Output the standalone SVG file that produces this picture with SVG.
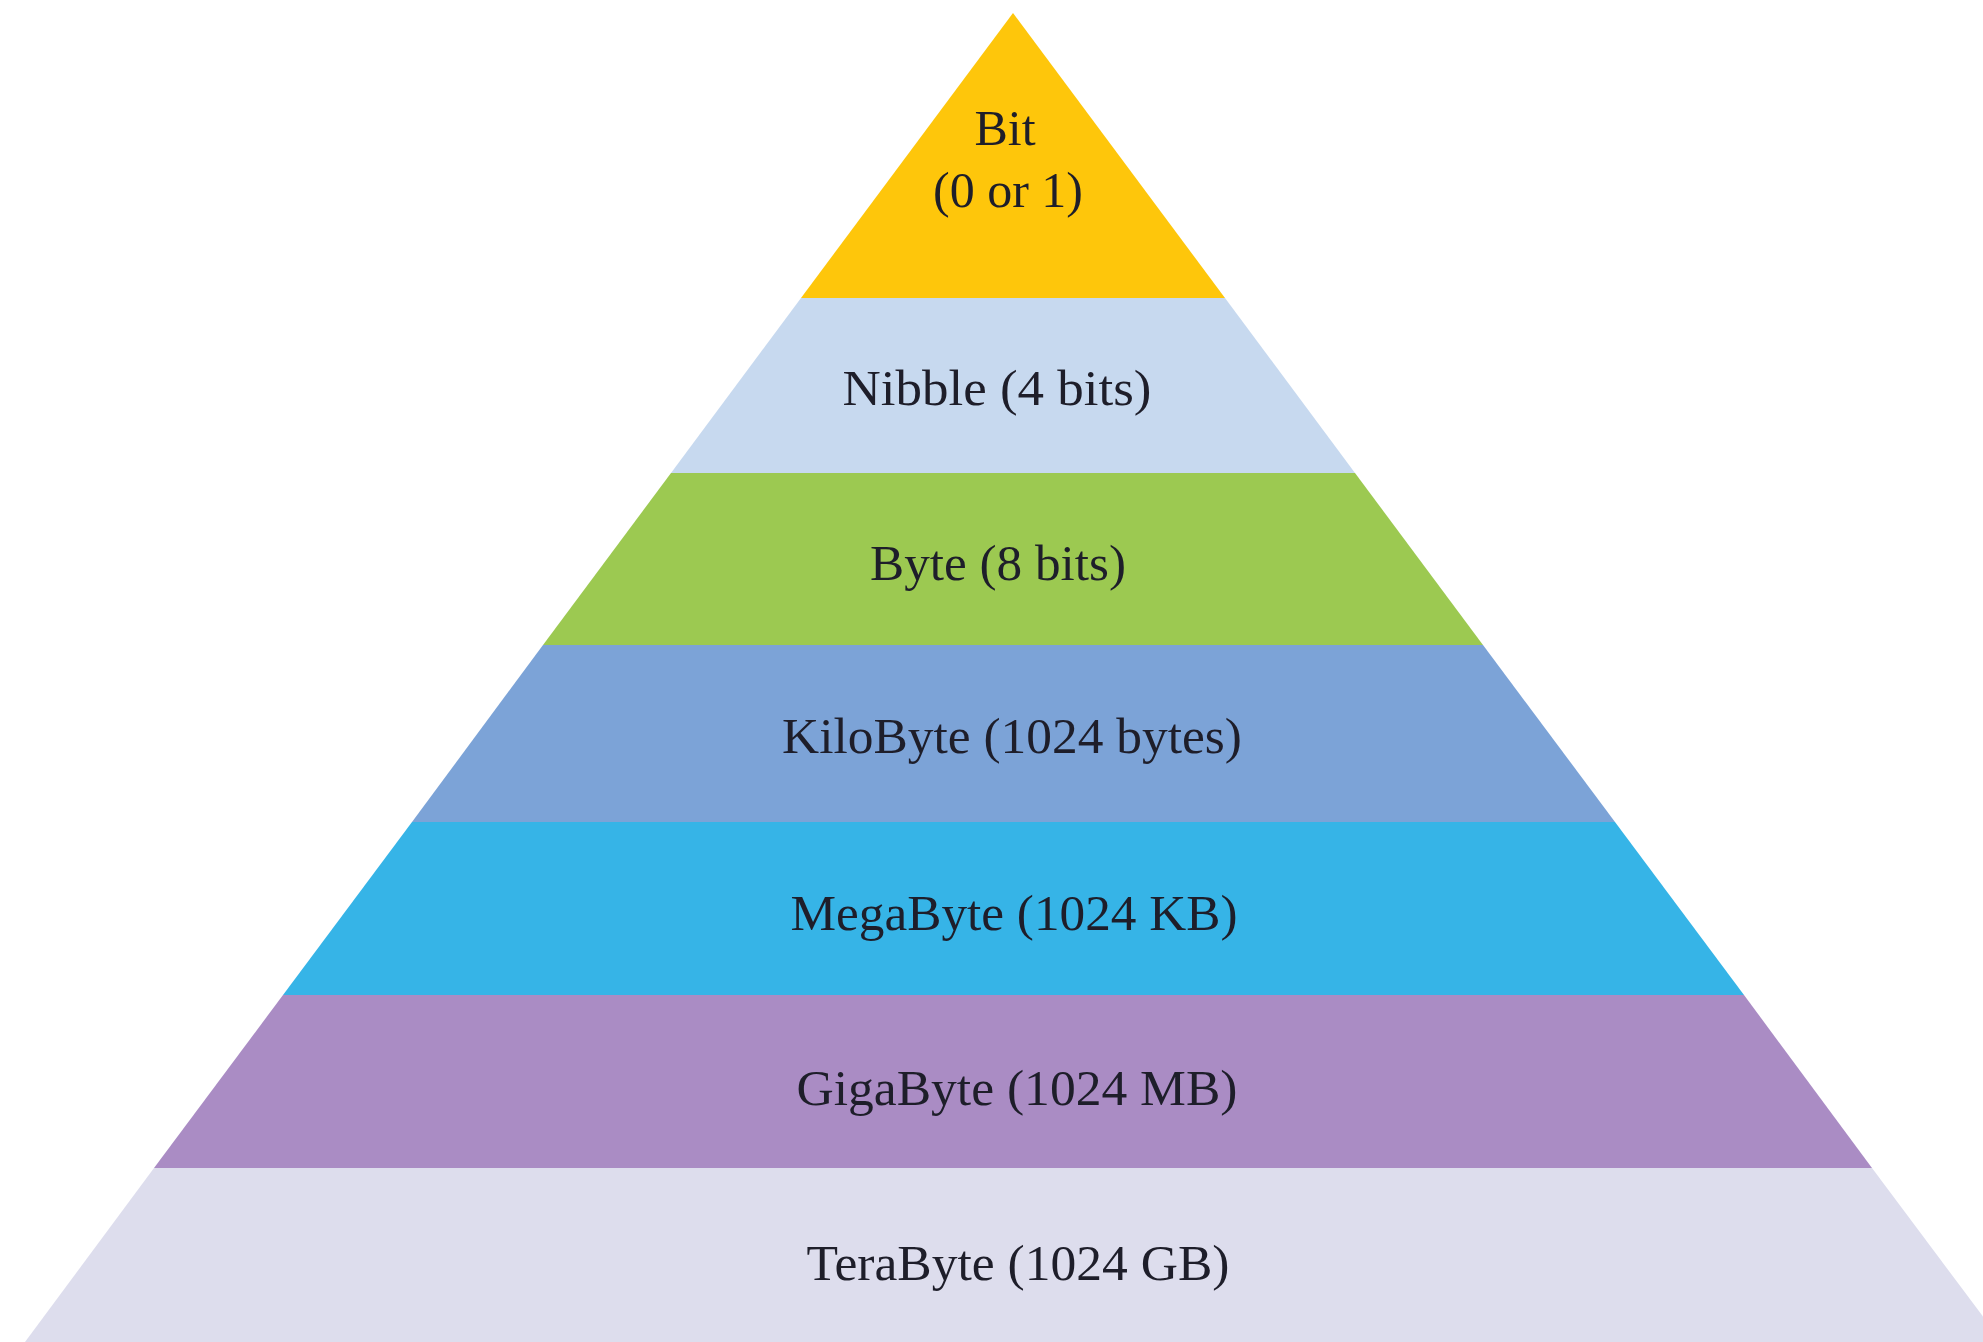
<svg xmlns="http://www.w3.org/2000/svg" width="1983" height="1342" viewBox="0 0 1983 1342">
<style>
.lbl{font-family:"Liberation Serif","Times New Roman",serif;font-size:50px;fill:#1e1e2a;text-anchor:middle}
</style>
<rect width="1983" height="1342" fill="#ffffff"/>
<g id="bit">
<polygon points="1013,13 1225,298 801,298" fill="#fec60b"/>
<text class="lbl" x="1005" y="145">Bit</text>
<text class="lbl" x="1008" y="207">(0 or 1)</text>
</g>
<g id="nibble">
<polygon points="801,298 1225,298 1355,473 671,473" fill="#c7d9ef"/>
<text class="lbl" x="997" y="405" textLength="309" lengthAdjust="spacingAndGlyphs">Nibble (4 bits)</text>
</g>
<g id="byte">
<polygon points="671,473 1355,473 1483,645 543,645" fill="#9cc951"/>
<text class="lbl" x="998" y="580" textLength="256" lengthAdjust="spacingAndGlyphs">Byte (8 bits)</text>
</g>
<g id="kilobyte">
<polygon points="543,645 1483,645 1615,822 412,822" fill="#7ca3d7"/>
<text class="lbl" x="1012" y="753" textLength="460" lengthAdjust="spacingAndGlyphs">KiloByte (1024 bytes)</text>
</g>
<g id="megabyte">
<polygon points="412,822 1615,822 1744,995 283,995" fill="#36b4e7"/>
<text class="lbl" x="1014" y="930" textLength="447" lengthAdjust="spacingAndGlyphs">MegaByte (1024 KB)</text>
</g>
<g id="gigabyte">
<polygon points="283,995 1744,995 1872,1168 154,1168" fill="#aa8cc4"/>
<text class="lbl" x="1017" y="1105" textLength="441" lengthAdjust="spacingAndGlyphs">GigaByte (1024 MB)</text>
</g>
<g id="terabyte">
<polygon points="154,1168 1872,1168 2002,1342 25,1342" fill="#dddded"/>
<text class="lbl" x="1018" y="1280" textLength="423" lengthAdjust="spacingAndGlyphs">TeraByte (1024 GB)</text>
</g>
<g id="connectors"/>
</svg>
